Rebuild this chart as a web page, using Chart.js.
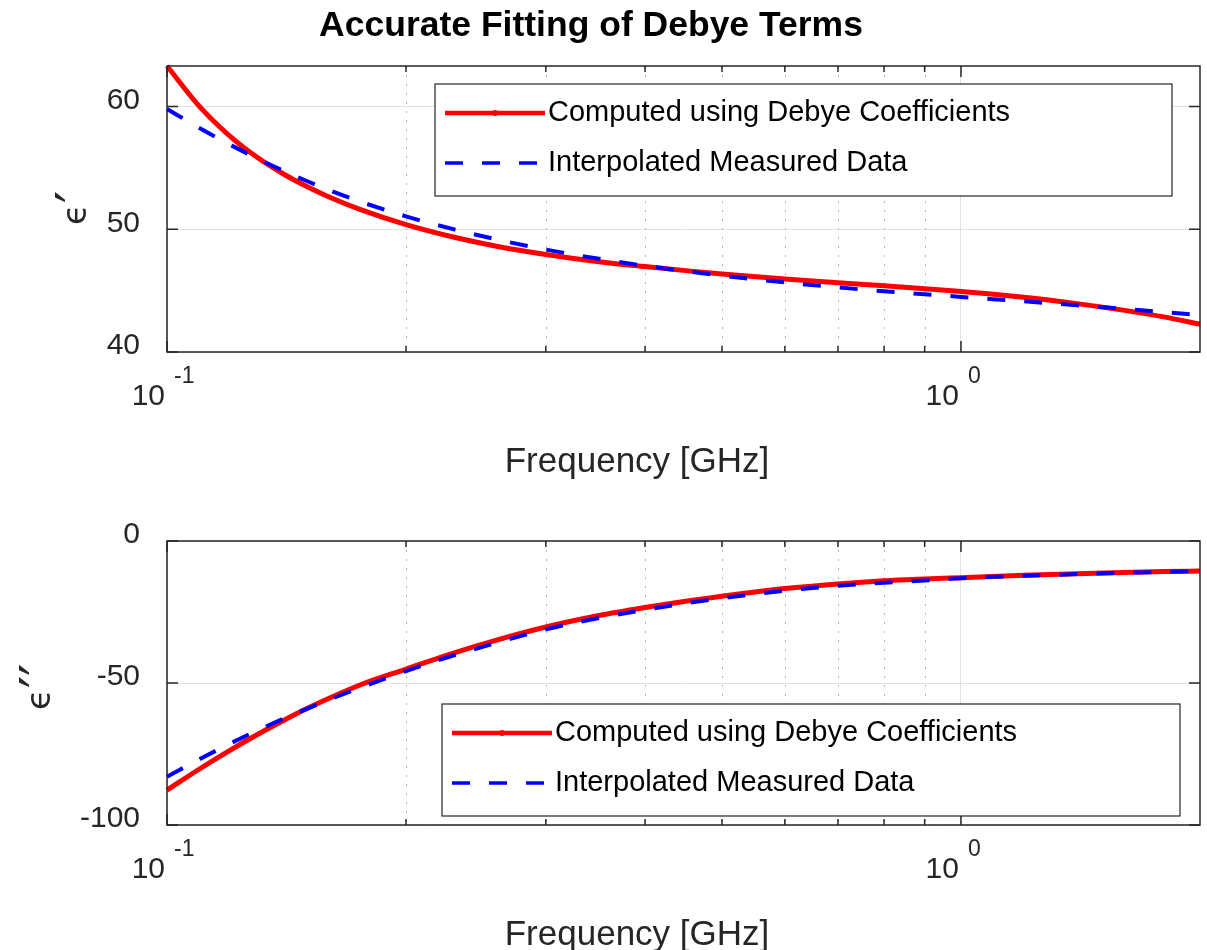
<!DOCTYPE html>
<html>
<head>
<meta charset="utf-8">
<script src="https://cdn.jsdelivr.net/npm/chart.js@4.4.1/dist/chart.umd.min.js"></script>
<style>
  body { margin: 0; background: #fff; }
  #wrap { position: relative; width: 1207px; height: 950px; overflow: hidden; }
  canvas { position: absolute; left: 0; }
</style>
</head>
<body>
<div id="wrap">
  <canvas id="topChart" width="1207" height="500" style="top:0"></canvas>
  <canvas id="bottomChart" width="1207" height="475" style="top:475px"></canvas>
</div>
<script>
// frequency grid [GHz]
const freqs = [0.1, 0.11, 0.12, 0.13, 0.14, 0.15, 0.16, 0.175, 0.2, 0.23, 0.26, 0.3, 0.35,
               0.4, 0.45, 0.5, 0.6, 0.7, 0.8, 0.9, 1.0, 1.2, 1.4, 1.6, 1.8, 2.0];

// eps' (real part)
const realComputed = [63.3, 59.97, 57.59, 55.84, 54.52, 53.48, 52.63, 51.62, 50.38, 49.35, 48.62, 47.95, 47.36,
                      46.96, 46.63, 46.36, 45.95, 45.65, 45.39, 45.15, 44.93, 44.46, 43.94, 43.41, 42.86, 42.27];
const realMeasured = [59.8, 58.23, 56.9, 55.76, 54.78, 53.93, 53.19, 52.26, 51.05, 49.99, 49.17, 48.35, 47.59,
                      47.02, 46.58, 46.22, 45.67, 45.26, 44.95, 44.71, 44.49, 44.13, 43.81, 43.51, 43.25, 43.01];

// eps'' (imaginary part)
const imagComputed = [-87.7, -80.19, -73.71, -68.13, -63.29, -59.02, -55.37, -50.7, -45.1, -39.37, -34.91, -30.3, -26.26,
                      -23.42, -21.19, -19.44, -16.76, -15.1, -14.0, -13.37, -12.9, -12.1, -11.52, -11.1, -10.78, -10.55];
const imagMeasured = [-83.0, -76.77, -71.38, -66.68, -62.63, -59.08, -55.9, -51.7, -45.8, -40.23, -35.88, -31.1, -27.14,
                      -24.25, -21.95, -20.15, -17.46, -15.8, -14.7, -13.95, -13.1, -12.25, -11.66, -11.21, -10.87, -10.6];

const xMajorTicks = [0.1, 1];
const xMinorTicks = [0.2, 0.3, 0.4, 0.5, 0.6, 0.7, 0.8, 0.9];
const topYTicks = [40, 50, 60];
const bottomYTicks = [-100, -50, 0];
const seriesLabels = ['Computed using Debye Coefficients', 'Interpolated Measured Data'];

const FONT = '"Liberation Sans", Arial, Helvetica, sans-serif';
const AXIS_COLOR = '#262626';
Chart.defaults.font.family = FONT;

// matlab-ish axes decorations: dotted minor grid, inward ticks, box, legend, labels
const matlabAxes = {
  id: 'matlabAxes',
  beforeDatasetsDraw(chart, args, opts) {
    const { ctx, chartArea: a, scales: { x } } = chart;
    ctx.save();
    ctx.strokeStyle = '#b5b5b5';
    ctx.lineWidth = 1;
    ctx.setLineDash([2, 7]);
    xMinorTicks.forEach(v => {
      const px = Math.round(x.getPixelForValue(v)) + 0.5;
      ctx.beginPath();
      ctx.moveTo(px, a.top);
      ctx.lineTo(px, a.bottom);
      ctx.stroke();
    });
    ctx.restore();
  },
  afterDatasetsDraw(chart, args, opts) {
    const { ctx, chartArea: a, scales: { x, y } } = chart;
    ctx.save();
    // ticks pointing in
    ctx.strokeStyle = AXIS_COLOR;
    ctx.lineWidth = 1.5;
    const tick = (x1, y1, x2, y2) => { ctx.beginPath(); ctx.moveTo(x1, y1); ctx.lineTo(x2, y2); ctx.stroke(); };
    xMajorTicks.concat(xMinorTicks).forEach(v => {
      const px = x.getPixelForValue(v);
      const len = xMajorTicks.includes(v) ? 11 : 6;
      tick(px, a.bottom, px, a.bottom - len);
      tick(px, a.top, px, a.top + len);
    });
    opts.yTicks.forEach(v => {
      const py = y.getPixelForValue(v);
      tick(a.left, py, a.left + 11, py);
      tick(a.right, py, a.right - 11, py);
    });
    // box
    ctx.strokeRect(a.left, a.top, a.right - a.left, a.bottom - a.top);

    // legend
    const L = opts.legend;
    ctx.fillStyle = '#fff';
    ctx.fillRect(L.x, L.y, L.w, L.h);
    ctx.lineWidth = 1.2;
    ctx.strokeStyle = AXIS_COLOR;
    ctx.strokeRect(L.x, L.y, L.w, L.h);
    chart.data.datasets.forEach((ds, i) => {
      const ly = L.y + 29 + i * 50;
      ctx.beginPath();
      ctx.strokeStyle = ds.borderColor;
      ctx.lineWidth = ds.borderWidth - 0.5;
      ctx.setLineDash(ds.borderDash || []);
      ctx.moveTo(L.x + 10, ly);
      ctx.lineTo(L.x + 110, ly);
      ctx.stroke();
      ctx.setLineDash([]);
      if (i === 0) {
        ctx.fillStyle = ds.borderColor;
        ctx.beginPath();
        ctx.arc(L.x + 60, ly, 3, 0, Math.PI * 2);
        ctx.fill();
      }
      ctx.fillStyle = '#000';
      ctx.font = '29px ' + FONT;
      ctx.textAlign = 'left';
      ctx.textBaseline = 'middle';
      ctx.fillText(ds.label, L.x + 113, ly);
    });
    ctx.restore();
  },
  afterDraw(chart, args, opts) {
    const { ctx, chartArea: a, scales: { x } } = chart;
    ctx.save();
    ctx.fillStyle = AXIS_COLOR;
    ctx.textBaseline = 'alphabetic';
    // log tick labels 10^n
    xMajorTicks.forEach(v => {
      const px = x.getPixelForValue(v);
      ctx.font = '30px ' + FONT;
      ctx.textAlign = 'right';
      ctx.fillText('10', px - 2, a.bottom + 53);
      ctx.font = '23px ' + FONT;
      ctx.textAlign = 'left';
      ctx.fillText(String(Math.round(Math.log10(v))), px + 7, a.bottom + 31);
    });
    // x title
    ctx.font = '35px ' + FONT;
    ctx.textAlign = 'center';
    ctx.fillText('Frequency [GHz]', 637, a.bottom + 120);
    // y title: epsilon with big primes, rotated
    ctx.save();
    ctx.translate(opts.yTitleX, opts.yTitleY);
    ctx.rotate(-Math.PI / 2);
    ctx.textBaseline = 'alphabetic';
    ctx.textAlign = 'left';
    ctx.font = '34px "DejaVu Sans", ' + FONT;
    ctx.fillText('\u03f5', 0, 0);
    const w = ctx.measureText('\u03f5').width;
    ctx.font = '54px "DejaVu Sans", ' + FONT;
    ctx.fillText(opts.yPrimes, w + 1, 8);
    ctx.restore();
    // figure title
    if (opts.title) {
      ctx.fillStyle = '#000';
      ctx.font = 'bold 35.5px ' + FONT;
      ctx.textAlign = 'center';
      ctx.fillText(opts.title, 591, 36);
    }
    ctx.restore();
  }
};

function makeChart(id, computed, measured, yMin, yMax, yTicks, o) {
  return new Chart(document.getElementById(id), {
    type: 'line',
    data: {
      datasets: [
        {
          label: seriesLabels[0],
          data: freqs.map((f, i) => ({ x: f, y: computed[i] })),
          borderColor: '#ff0000',
          borderWidth: 5,
          pointRadius: 0,
          cubicInterpolationMode: 'monotone',
          clip: 8,
          order: 1
        },
        {
          label: seriesLabels[1],
          data: freqs.map((f, i) => ({ x: f, y: measured[i] })),
          borderColor: '#0000ff',
          borderWidth: 4,
          borderDash: [18, 19],
          pointRadius: 0,
          cubicInterpolationMode: 'monotone',
          clip: 8,
          order: 0
        }
      ]
    },
    options: {
      responsive: false,
      animation: false,
      devicePixelRatio: 1,
      layout: { padding: { top: o.padTop, right: 7, left: 0, bottom: 0 } },
      plugins: {
        legend: { display: false },
        tooltip: { enabled: false },
        matlabAxes: {
          yTicks: yTicks,
          legend: o.legend,
          yPrimes: o.yPrimes,
          yTitleX: o.yTitleX,
          yTitleY: o.yTitleY,
          title: o.title
        }
      },
      scales: {
        x: {
          type: 'logarithmic',
          min: 0.1,
          max: 2,
          afterBuildTicks: s => { s.ticks = xMajorTicks.map(v => ({ value: v })); },
          afterFit: s => { s.height = o.xHeight; },
          ticks: { display: false },
          grid: { color: '#e2e2e2', drawTicks: false, lineWidth: 1 },
          border: { display: false }
        },
        y: {
          min: yMin,
          max: yMax,
          afterBuildTicks: s => { s.ticks = yTicks.map(v => ({ value: v })); },
          afterFit: s => { s.width = 167; },
          ticks: {
            font: { size: 30 },
            color: AXIS_COLOR,
            padding: 27,
            labelOffset: -6
          },
          grid: { color: '#e2e2e2', drawTicks: false, lineWidth: 1 },
          border: { display: false }
        }
      }
    },
    plugins: [matlabAxes]
  });
}

makeChart('topChart', realComputed, realMeasured, 40, 63.3, topYTicks, {
  padTop: 66, xHeight: 148,
  legend: { x: 435, y: 84, w: 737, h: 112 },
  yPrimes: '\u2032', yTitleX: 86, yTitleY: 225,
  title: 'Accurate Fitting of Debye Terms'
});

makeChart('bottomChart', imagComputed, imagMeasured, -100, 0, bottomYTicks, {
  padTop: 66, xHeight: 125,
  legend: { x: 442, y: 229, w: 738, h: 112 },
  yPrimes: '\u2032\u2032', yTitleX: 50, yTitleY: 235,
  title: null
});
</script>
</body>
</html>
